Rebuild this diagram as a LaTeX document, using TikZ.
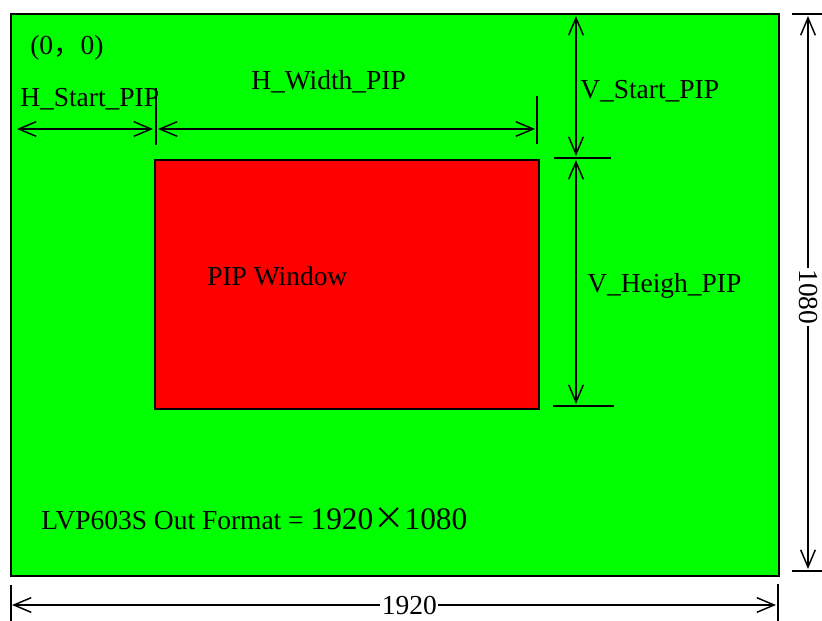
\documentclass[tikz,border=0pt]{standalone}
\usepackage{fontspec}
\setmainfont{Liberation Serif}
\newfontfamily\cjk{Noto Sans CJK SC}
\usepackage{xcolor}
\usetikzlibrary{arrows.meta}

\definecolor{scrgreen}{HTML}{00FF00}
\definecolor{pipred}{HTML}{FF0000}

\begin{document}
\begin{tikzpicture}[
  x=0.75pt, y=-0.75pt,
  font=\fontsize{20.6}{24}\selectfont,
  screen/.style={draw, line width=1.5pt, fill=scrgreen, inner sep=0pt},
  win/.style={draw, line width=1.3pt, fill=pipred, inner sep=0pt},
  lbl/.style={anchor=base west, inner sep=0pt},
  >={Straight Barb[length=13pt,width=11pt,line width=1.1pt]},
  dim/.style={<->, line width=1.1pt},
  tick/.style={line width=1.1pt},
]
\useasboundingbox (0,0) rectangle (822,621);
% ---- screen and PIP window ---------------------------------------------
\node[screen, minimum width=576pt, minimum height=421.5pt] (out) at (395,295) {};
\node[win, minimum width=288pt, minimum height=186.75pt] (pip) at (347,284.5) {};
% ---- texts -------------------------------------------------------------
\node[lbl] (origin) at (30,54) {(0{\cjk ，}0)};
\node[lbl] (hstart) at (20,106) {H\_Start\_PIP};
\node[lbl] (hwidth) at (251,89) {H\_Width\_PIP};
\node[lbl] (vstart) at (580,98) {V\_Start\_PIP};
\node[lbl] (vheigh) at (587,292) {V\_Heigh\_PIP};
\node[lbl] (piptxt) at (207,285) {PIP Window};
\node[lbl] (fmt) at (41,529) {LVP603S Out Format = {\fontsize{23.5}{27}\selectfont
  1920{\cjk ×}1080}};
% ---- dimension end points ----------------------------------------------
\coordinate (hs1) at (17,129);   \coordinate (hs2) at (153,129);
\coordinate (hw1) at (158,129);  \coordinate (hw2) at (535,129);
\coordinate (vs1) at (576,16);   \coordinate (vs2) at (576,156);
\coordinate (vh1) at (576,160);  \coordinate (vh2) at (576,404);
\coordinate (h1) at (808,16);    \coordinate (h2) at (808,569);
\coordinate (w1) at (12,605);    \coordinate (w2) at (776,605);
% ---- ticks -------------------------------------------------------------
\coordinate (t1a) at (156,88);   \coordinate (t1b) at (156,145);
\coordinate (t2a) at (537,96);   \coordinate (t2b) at (537,144);
\coordinate (t3a) at (554,158);  \coordinate (t3b) at (611,158);
\coordinate (t4a) at (553,406);  \coordinate (t4b) at (614,406);
\coordinate (t5a) at (792,14);   \coordinate (t5b) at (822,14);
\coordinate (t6a) at (792,571);  \coordinate (t6b) at (822,571);
\coordinate (t7a) at (11,585);   \coordinate (t7b) at (11,621);
\coordinate (t8a) at (778,584);  \coordinate (t8b) at (778,621);
\foreach \t in {1,...,8}
  \draw[tick] (t\t a) -- (t\t b);
% ---- dimension arrows --------------------------------------------------
\draw[dim] (hs1) -- (hs2);
\draw[dim] (hw1) -- (hw2);
\draw[dim] (vs1) -- (vs2);
\draw[dim] (vh1) -- (vh2);
\draw[dim] (h1) -- node[pos=0.508, rotate=-90, fill=white, inner sep=1pt]{1080} (h2);
\draw[dim] (w1) -- node[pos=0.52, fill=white, inner sep=1pt]{1920} (w2);
\end{tikzpicture}
\end{document}
